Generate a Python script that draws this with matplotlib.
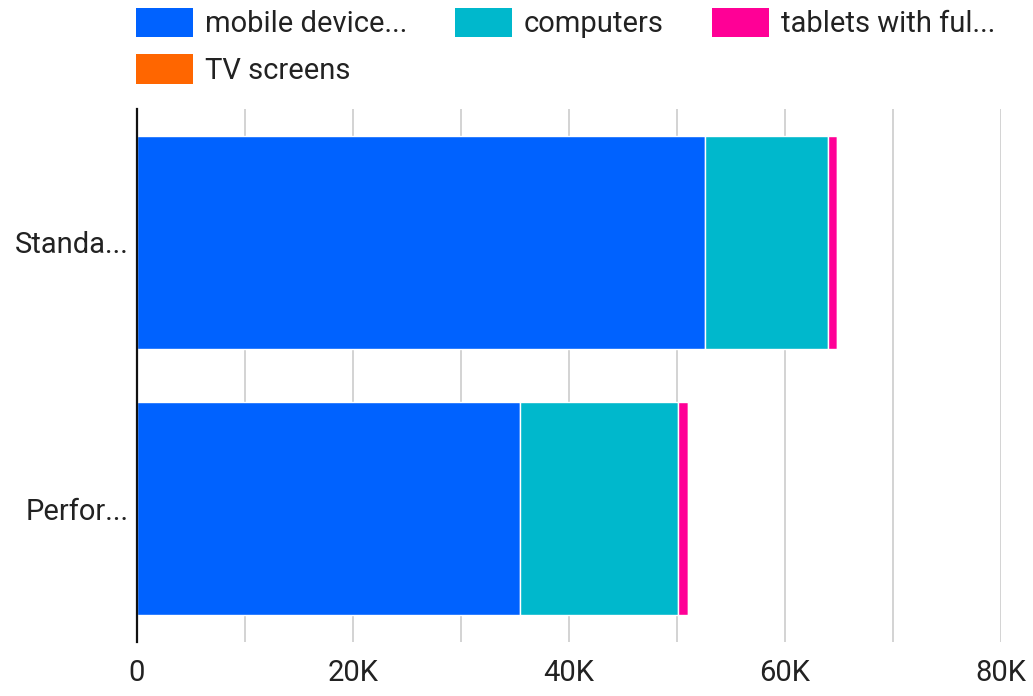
import matplotlib
matplotlib.use("Agg")
import matplotlib.pyplot as plt
from matplotlib.patches import Patch
from matplotlib.ticker import MultipleLocator

categories = ["Standa...", "Perfor..."]
series_names = ["mobile device...", "computers", "tablets with ful...", "TV screens"]
mobile = [52600, 35500]
computers = [11400, 14550]
tablets = [800, 950]
tv = [20, 100]
colors = ["#0062ff", "#00b8cc", "#ff0096", "#ff6600"]
xticks = [0, 20000, 40000, 60000, 80000]
xticklabels = ["0", "20K", "40K", "60K", "80K"]

plt.rcParams['font.family'] = ['Roboto', 'DejaVu Sans']
fig = plt.figure(figsize=(10.33, 6.96), dpi=100)
ax = fig.add_axes([137/1033, 54/696, (1001-137)/1033, (642-109)/696])

ypos = [1, 0]
left = [0, 0]
for vals, col in zip([mobile, computers, tablets, tv], colors):
    ax.barh(ypos, vals, left=left, height=0.8, color=col, edgecolor="white",
            linewidth=1.0, zorder=3)
    left = [l + v for l, v in zip(left, vals)]

ax.set_xlim(0, 80000)
ax.set_ylim(-0.5, 1.5)
ax.set_yticks(ypos)
ax.set_yticklabels(categories)
ax.set_xticks(xticks)
ax.set_xticklabels(xticklabels)
ax.xaxis.set_minor_locator(MultipleLocator(10000))
ax.grid(axis="x", which="both", color="#cccccc", linewidth=1.2, zorder=0)
ax.tick_params(axis="both", length=0, labelsize=21, colors="#222222")
ax.tick_params(axis="y", pad=6)
ax.tick_params(axis="x", pad=12)
ax.tick_params(axis="x", which="minor", length=0)
for s in ["top", "right", "bottom"]:
    ax.spines[s].set_visible(False)
ax.spines["left"].set_color("#111111")
ax.spines["left"].set_linewidth(1.6)
ax.spines["left"].set_zorder(5)

handles = [Patch(facecolor=c, edgecolor="none") for c in colors]
order = [0, 3, 1, 2]
fig.legend([handles[i] for i in order], [series_names[i] for i in order],
           ncol=3, loc="upper left", bbox_to_anchor=(116/1033, 1.018),
           frameon=False, fontsize=21, handlelength=1.95, handleheight=1.17,
           handletextpad=0.4, columnspacing=1.65, labelspacing=0.55,
           labelcolor="#222222", borderaxespad=0.3)

fig.savefig("out.png", dpi=100, facecolor="white")
